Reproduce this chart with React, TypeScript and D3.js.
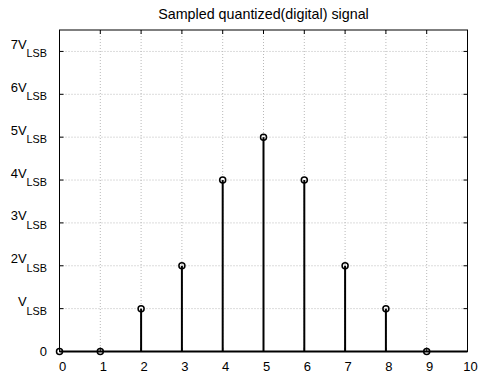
import { useEffect, useRef } from 'react';
import * as d3 from 'd3';

const samples = [0, 1, 2, 3, 4, 5, 6, 7, 8, 9];
const levels = [0, 0, 1, 2, 4, 5, 4, 2, 1, 0];
const xTicks = [0, 1, 2, 3, 4, 5, 6, 7, 8, 9, 10];
const yTicks = [0, 1, 2, 3, 4, 5, 6, 7];
const yTickPrefix = ['0', '', '2', '3', '4', '5', '6', '7'];
const title = 'Sampled quantized(digital) signal';

export default function App() {
    const ref = useRef<SVGSVGElement>(null);

    useEffect(() => {
        if (!ref.current) return;
        const svg = d3.select(ref.current);
        svg.selectAll('*').remove();

        const W = 486, H = 373;
        const margin = { top: 30, right: 18.5, bottom: 21.5, left: 59.5 };
        const width = W - margin.left - margin.right;
        const height = H - margin.top - margin.bottom;
        const font = '"Liberation Sans", Arial, sans-serif';

        const g = svg.append('g')
            .attr('transform', `translate(${margin.left},${margin.top})`);

        const x = d3.scaleLinear().domain([0, 10]).range([0, width]);
        const y = d3.scaleLinear().domain([0, 7.5]).range([height, 0]);

        // Grid
        g.append('g')
            .selectAll('line')
            .data(xTicks.slice(1, -1))
            .enter()
            .append('line')
            .attr('x1', d => x(d)).attr('x2', d => x(d))
            .attr('y1', 0).attr('y2', height)
            .attr('stroke', '#b8b8b8')
            .attr('stroke-dasharray', '1,2');

        g.append('g')
            .selectAll('line')
            .data(yTicks.slice(1))
            .enter()
            .append('line')
            .attr('x1', 0).attr('x2', width)
            .attr('y1', d => y(d)).attr('y2', d => y(d))
            .attr('stroke', '#b8b8b8')
            .attr('stroke-dasharray', '1,2');

        // Box
        g.append('rect')
            .attr('x', 0).attr('y', 0)
            .attr('width', width).attr('height', height)
            .attr('fill', 'none')
            .attr('stroke', '#000')
            .attr('stroke-width', 1);

        // Ticks (inside, all four sides)
        const tl = 4;
        const ticks = g.append('g').attr('stroke', '#000').attr('stroke-width', 1);
        xTicks.forEach(t => {
            ticks.append('line').attr('x1', x(t)).attr('x2', x(t)).attr('y1', height).attr('y2', height - tl);
            ticks.append('line').attr('x1', x(t)).attr('x2', x(t)).attr('y1', 0).attr('y2', tl);
        });
        yTicks.forEach(t => {
            ticks.append('line').attr('x1', 0).attr('x2', tl).attr('y1', y(t)).attr('y2', y(t));
            ticks.append('line').attr('x1', width).attr('x2', width - tl).attr('y1', y(t)).attr('y2', y(t));
        });

        // X labels
        g.append('g')
            .selectAll('text')
            .data(xTicks)
            .enter()
            .append('text')
            .attr('x', d => x(d) + 3)
            .attr('y', height + 19)
            .attr('text-anchor', 'middle')
            .attr('font-family', font)
            .attr('font-size', 13)
            .text(d => String(d));

        // Y labels
        yTicks.forEach((t, i) => {
            const yy = y(t);
            if (t === 0) {
                g.append('text')
                    .attr('x', -12.5).attr('y', yy + 4.5)
                    .attr('text-anchor', 'end')
                    .attr('font-family', font)
                    .attr('font-size', 13)
                    .text('0');
                return;
            }
            const txt = g.append('text')
                .attr('x', -12.5).attr('y', yy - 2.5)
                .attr('text-anchor', 'end')
                .attr('font-family', font)
                .attr('font-size', 13);
            txt.append('tspan').text(yTickPrefix[i] + 'V');
            txt.append('tspan')
                .attr('dy', 8.5)
                .attr('font-size', 10.8)
                .text('LSB');
        });

        // Title
        svg.append('text')
            .attr('x', margin.left + width / 2)
            .attr('y', 19)
            .attr('text-anchor', 'middle')
            .attr('font-family', font)
            .attr('font-size', 14.3)
            .text(title);

        // Baseline
        g.append('line')
            .attr('x1', x(0)).attr('x2', x(10))
            .attr('y1', y(0)).attr('y2', y(0))
            .attr('stroke', '#000')
            .attr('stroke-width', 2);

        // Stems
        g.append('g')
            .selectAll('line')
            .data(samples)
            .enter()
            .append('line')
            .attr('x1', d => x(d)).attr('x2', d => x(d))
            .attr('y1', y(0)).attr('y2', (_, i) => y(levels[i]))
            .attr('stroke', '#000')
            .attr('stroke-width', 2);

        // Markers
        g.append('g')
            .selectAll('circle')
            .data(samples)
            .enter()
            .append('circle')
            .attr('cx', d => x(d))
            .attr('cy', (_, i) => y(levels[i]))
            .attr('r', 3)
            .attr('fill', 'none')
            .attr('stroke', '#000')
            .attr('stroke-width', 1.5);
    }, []);

    return (
        <div style={{ position: 'absolute', left: 0, top: 0 }}>
            <svg ref={ref} width={486} height={373} style={{ display: 'block', background: '#fff' }} />
        </div>
    );
}
